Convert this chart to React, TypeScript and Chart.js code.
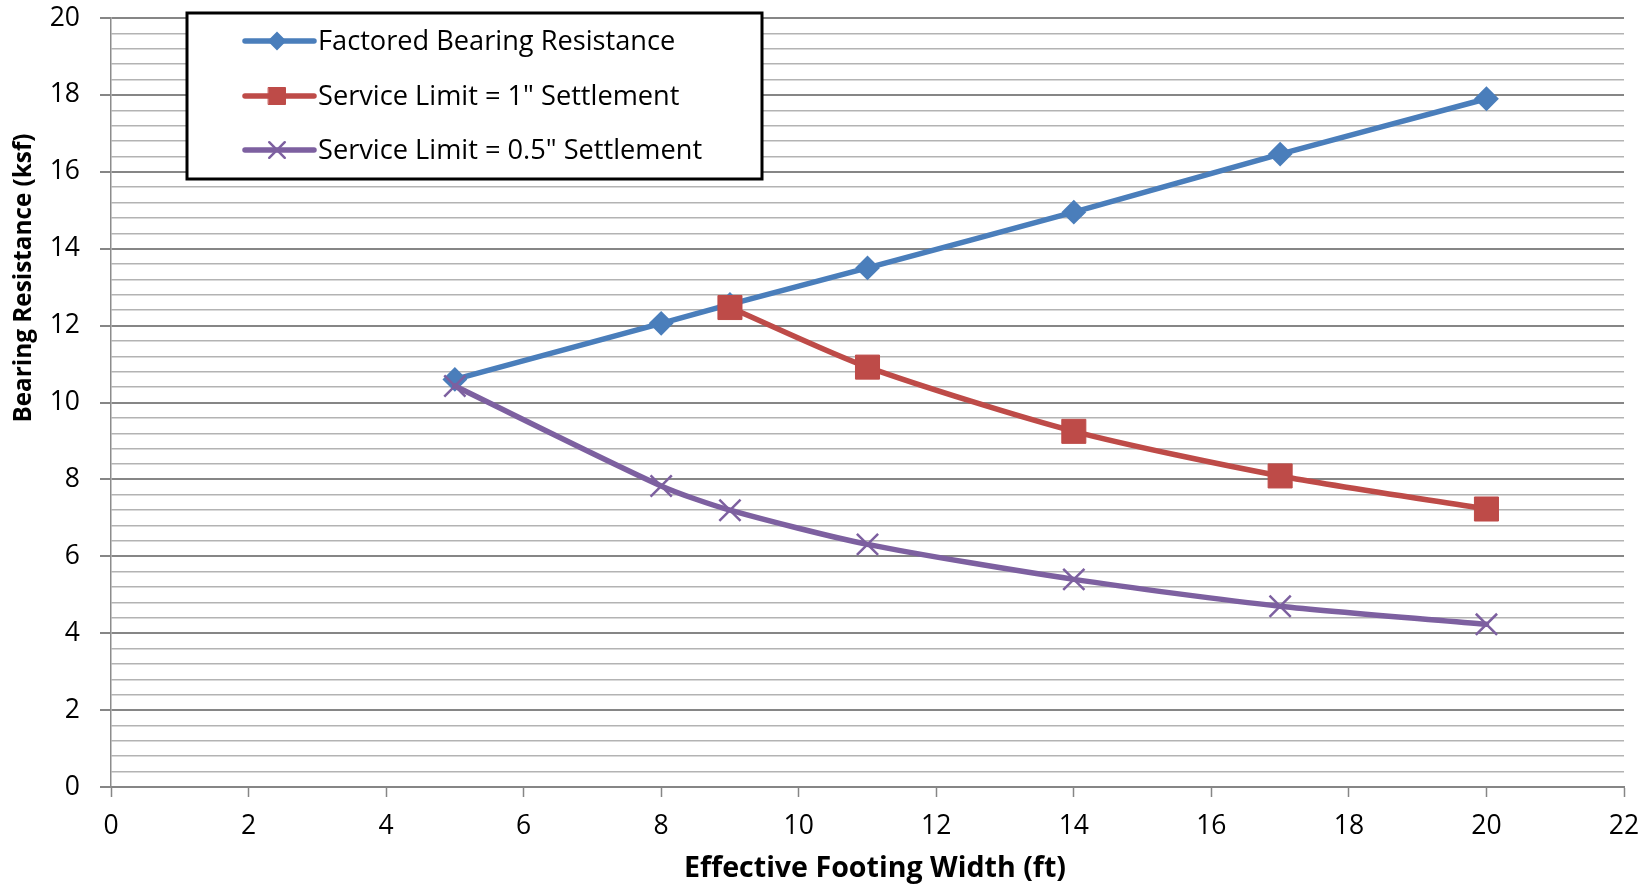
import React, { useEffect, useRef } from "react";
import { Chart, registerables } from "chart.js";
import { drawPoint } from "chart.js/helpers";

Chart.register(...registerables);

// Effective footing width (ft) for each series
const widthsFactored = [5, 8, 9, 11, 14, 17, 20];
const widthsOneInch = [9, 11, 14, 17, 20];
const widthsHalfInch = [5, 8, 9, 11, 14, 17, 20];

// Bearing resistance (ksf)
const factoredResistance = [10.6, 12.06, 12.55, 13.5, 14.95, 16.46, 17.9];
const serviceOneInch = [12.47, 10.92, 9.25, 8.09, 7.23];
const serviceHalfInch = [10.43, 7.83, 7.2, 6.31, 5.4, 4.7, 4.23];

const seriesLabels = [
  "Factored Bearing Resistance",
  'Service Limit = 1" Settlement',
  'Service Limit = 0.5" Settlement',
];

const xTitle = "Effective Footing Width (ft)";
const yTitle = "Bearing Resistance (ksf)";

const FONT = '"Open Sans", "DejaVu Sans", sans-serif';

const toPoints = (xs: number[], ys: number[]) => xs.map((x, i) => ({ x, y: ys[i] }));

const isMajor = (v: number) => Math.abs(v / 2 - Math.round(v / 2)) < 1e-6;

// Framed legend box drawn inside the plot area
const framedLegend = {
  id: "framedLegend",
  afterDraw(chart: any, _args: any, opts: any) {
    const ctx = chart.ctx as CanvasRenderingContext2D;
    const { box, rows, lineStart, lineEnd, markerX, textX, markerRadius, fontSize } = opts;
    ctx.save();
    ctx.fillStyle = "#ffffff";
    ctx.fillRect(box.left, box.top, box.right - box.left, box.bottom - box.top);
    ctx.lineWidth = 3;
    ctx.strokeStyle = "#000000";
    ctx.strokeRect(box.left, box.top, box.right - box.left, box.bottom - box.top);
    chart.data.datasets.forEach((ds: any, i: number) => {
      const y = rows[i];
      ctx.strokeStyle = ds.borderColor;
      ctx.lineWidth = ds.borderWidth;
      ctx.lineCap = "round";
      ctx.beginPath();
      ctx.moveTo(lineStart, y);
      ctx.lineTo(lineEnd, y);
      ctx.stroke();
      ctx.fillStyle = ds.pointBackgroundColor;
      ctx.strokeStyle = ds.pointBorderColor;
      ctx.lineWidth = ds.pointBorderWidth;
      drawPoint(
        ctx,
        { pointStyle: ds.pointStyle, radius: markerRadius[i], borderWidth: ds.pointBorderWidth, rotation: 0 } as any,
        markerX,
        y
      );
      ctx.fillStyle = "#000000";
      ctx.font = `${fontSize}px ${FONT}`;
      ctx.textAlign = "left";
      ctx.textBaseline = "middle";
      ctx.fillText(ds.label, textX, y + 1);
    });
    ctx.restore();
  },
};

// Axis titles: horizontal one under the axis, rotated one beside the upper half of the value axis
const axisTitles = {
  id: "axisTitles",
  afterDraw(chart: any, _args: any, opts: any) {
    const ctx = chart.ctx as CanvasRenderingContext2D;
    ctx.save();
    ctx.fillStyle = "#000000";
    ctx.textAlign = "center";
    ctx.textBaseline = "middle";

    ctx.font = `bold ${opts.x.fontSize}px ${FONT}`;
    ctx.fillText(opts.x.text, opts.x.cx, opts.x.cy);

    ctx.translate(opts.y.cx, opts.y.cy);
    ctx.rotate(-Math.PI / 2);
    ctx.font = `bold ${opts.y.fontSize}px ${FONT}`;
    ctx.fillText(opts.y.text, 0, 0);
    ctx.restore();
  },
};

export default function App() {
  const canvasRef = useRef<HTMLCanvasElement | null>(null);

  useEffect(() => {
    const canvas = canvasRef.current;
    if (!canvas) return;
    const blue = "#4a7ebb";
    const red = "#be4b48";
    const purple = "#7d60a0";

    const chart = new Chart(canvas, {
      type: "line",
      data: {
        datasets: [
          {
            label: seriesLabels[0],
            data: toPoints(widthsFactored, factoredResistance),
            borderColor: blue,
            backgroundColor: blue,
            pointBackgroundColor: blue,
            pointBorderColor: blue,
            borderWidth: 5.5,
            pointStyle: "rectRot",
            pointRadius: 11,
            pointBorderWidth: 2,
            tension: 0.25,
            order: 3,
          },
          {
            label: seriesLabels[1],
            data: toPoints(widthsOneInch, serviceOneInch),
            borderColor: red,
            backgroundColor: red,
            pointBackgroundColor: red,
            pointBorderColor: red,
            borderWidth: 5.5,
            pointStyle: "rect",
            pointRadius: 17,
            pointBorderWidth: 1,
            tension: 0.25,
            order: 2,
          },
          {
            label: seriesLabels[2],
            data: toPoints(widthsHalfInch, serviceHalfInch),
            borderColor: purple,
            backgroundColor: purple,
            pointBackgroundColor: purple,
            pointBorderColor: purple,
            borderWidth: 5.5,
            pointStyle: "crossRot",
            pointRadius: 15,
            pointBorderWidth: 2.5,
            tension: 0.25,
            order: 1,
          },
        ] as any,
      },
      options: {
        animation: false,
        responsive: false,
        events: [],
        layout: { padding: { left: 0, right: 26, top: 16, bottom: 0 } },
        elements: {
          line: { borderCapStyle: "round", borderJoinStyle: "round" },
        },
        plugins: {
          legend: { display: false },
          tooltip: { enabled: false },
          framedLegend: {
            box: { left: 187, top: 13, right: 762, bottom: 179 },
            rows: [41, 96, 150],
            lineStart: 245,
            lineEnd: 314,
            markerX: 277,
            textX: 318,
            markerRadius: [8, 12, 11],
            fontSize: 27.2,
          },
          axisTitles: {
            x: { text: xTitle, cx: 875, cy: 869, fontSize: 28.6 },
            y: { text: yTitle, cx: 24, cy: 278, fontSize: 24.3 },
          },
        } as any,
        scales: {
          x: {
            type: "linear",
            min: 0,
            max: 22,
            ticks: {
              stepSize: 2,
              color: "#000000",
              font: { family: FONT, size: 26.5 },
              padding: 14,
            },
            grid: {
              drawOnChartArea: false,
              drawTicks: true,
              tickLength: 10,
              tickColor: "#868686",
              tickWidth: 1.5,
            },
            border: { color: "#868686", width: 2 },
            title: { display: false },
            afterFit: (scale: any) => {
              scale.height = 98;
              scale.paddingLeft = 0;
              scale.paddingRight = 0;
            },
          },
          y: {
            type: "linear",
            min: 0,
            max: 20,
            ticks: {
              stepSize: 0.4,
              autoSkip: false,
              color: "#000000",
              font: { family: FONT, size: 26.5 },
              padding: 20,
              callback: (v: any) => (isMajor(Number(v)) ? String(Math.round(Number(v))) : ""),
            },
            grid: {
              drawOnChartArea: true,
              drawTicks: true,
              tickLength: 11,
              color: (c: any) => (isMajor(c.tick.value) ? "#868686" : "#b3b3b3"),
              lineWidth: (c: any) => (isMajor(c.tick.value) ? 2 : 1.5),
              tickColor: (c: any) => (isMajor(c.tick.value) ? "#868686" : "rgba(0,0,0,0)"),
              tickWidth: 2,
            },
            border: { color: "#8c8c8c", width: 1.5 },
            title: { display: false },
            afterFit: (scale: any) => {
              scale.width = 111;
              scale.paddingTop = 0;
              scale.paddingBottom = 0;
            },
          },
        },
      },
      plugins: [framedLegend, axisTitles],
    });

    return () => chart.destroy();
  }, []);

  return (
    <div style={{ position: "fixed", left: 0, top: 0, width: 1650, height: 885, background: "#ffffff" }}>
      <canvas ref={canvasRef} width={1650} height={885} style={{ width: 1650, height: 885, display: "block" }} />
    </div>
  );
}
